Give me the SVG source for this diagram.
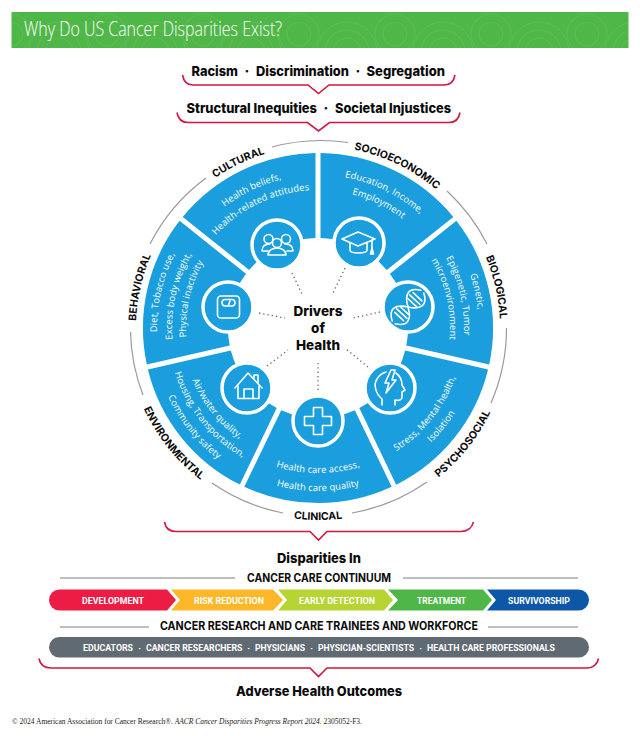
<svg xmlns="http://www.w3.org/2000/svg" width="640" height="736" viewBox="0 0 640 736">
<style>
text{font-family:"Inter","Liberation Sans",sans-serif}
.h{font-weight:800;fill:#0b0b0b;font-size:13.5px}
.sub{font-weight:700;fill:#0b0b0b;font-size:11.5px}
.out{font-weight:700;fill:#0b0b0b;font-size:10.5px;text-anchor:middle}
.seg{font-family:"Open Sans","Liberation Sans",sans-serif;fill:#fff;font-size:9.4px;text-anchor:middle;letter-spacing:.1px}
.bar{font-family:Roboto,"Liberation Sans",sans-serif;font-weight:700;fill:#fff;font-size:8.800px}
.sector{fill:#1b9edd}
.ring{fill:#1b9edd;stroke:#fff;stroke-width:3.5}
.ico{fill:none;stroke:#fff;stroke-width:1.6;stroke-linejoin:round;stroke-linecap:round}
.brace{fill:none;stroke:#d3163f;stroke-width:1.6}
.arc{fill:none;stroke:#9a9a9a;stroke-width:1.2}
.rule{stroke:#a9a9a9;stroke-width:1.4}
.dot{stroke:#666;stroke-width:1.3;stroke-dasharray:1.3 3}
</style>
<defs>
<pattern id="wave" width="96" height="36" patternUnits="userSpaceOnUse" x="11" y="12">
<g fill="none" stroke="#6cc563" stroke-width="1" opacity=".4">
<circle cx="48" cy="40" r="14"/><circle cx="48" cy="40" r="22"/><circle cx="48" cy="40" r="30"/>
<circle cx="0" cy="22" r="12"/><circle cx="96" cy="22" r="12"/><circle cx="0" cy="22" r="20"/><circle cx="96" cy="22" r="20"/>
</g></pattern>
<path id="sector" class="sector" d="M2.500 -175A175 175 0 0 1 135.300 -111.100L68.800 -58.100A90 90 0 0 0 2.500 -90Z"/>
<path id="t132" d="M-132 0A132 132 0 0 1 132 0"/>
<path id="t138" d="M-138 0A138 138 0 0 1 138 0"/>
<path id="t146" d="M-146 0A146 146 0 0 1 146 0"/>
<path id="t153" d="M-153 0A153 153 0 0 1 153 0"/>
<path id="t161" d="M-161 0A161 161 0 0 1 161 0"/>
<path id="t182" d="M-182 0A182 182 0 0 1 182 0"/>
<path id="b136" d="M-136 0A136 136 0 0 0 136 0"/>
<path id="b145" d="M-145 0A145 145 0 0 0 145 0"/>
<path id="b146" d="M-146 0A146 146 0 0 0 146 0"/>
<path id="b150" d="M-150 0A150 150 0 0 0 150 0"/>
<path id="b161" d="M-161 0A161 161 0 0 0 161 0"/>
<path id="b163" d="M-163 0A163 163 0 0 0 163 0"/>
<path id="b165" d="M-165 0A165 165 0 0 0 165 0"/>
<path id="b192" d="M-192 0A192 192 0 0 0 192 0"/>
</defs>

<g id="banner">
<rect x="11.500" y="12" width="617" height="36" fill="#4fb747"/>
<rect x="11.500" y="12" width="617" height="36" fill="url(#wave)"/>
<text x="24" y="36" font-size="20" fill="#fff" textLength="258" lengthAdjust="spacingAndGlyphs" style="font-family:'Open Sans',sans-serif;font-weight:300">Why Do US Cancer Disparities Exist?</text>
</g>

<g id="connectors">
<path class="brace" d="M182.500 75C183.500 81 187 85 193 85H308L318.500 93.500L329 85H444C450 85 454 81 455 75"/>
<path class="brace" d="M177 112.500C178 118.500 181.500 122.500 188 122.500H307.500L318.500 131L329.500 122.500H449C455.500 122.500 459 118.500 460 112.500"/>
<path class="brace" d="M164.500 522C165.500 528 169 531.500 176 531.500H310L318.500 540L327 531.500H461C467 531.500 472 528 473.500 522"/>
<path class="brace" d="M39 658.500C40 664 44 668 51 668H310L318.500 676.500L327 668H587C593 668 597.500 664 598.500 658.500"/>
<g class="arcs">
<path class="arc" d="M272 147A188 188 0 0 1 348 142.500"/>
<path class="arc" d="M447 191A188 188 0 0 1 487 244"/>
<path class="arc" d="M506.500 328A188 188 0 0 1 491 403"/>
<path class="arc" d="M427 482A188 188 0 0 1 352 513"/>
<path class="arc" d="M283 513A188 188 0 0 1 212 483"/>
<path class="arc" d="M143 395A188 188 0 0 1 130.500 332"/>
<path class="arc" d="M150 244A188 188 0 0 1 206 178"/>
</g>
<g class="dots">
<line class="dot" x1="292" y1="273" x2="303" y2="296"/>
<line class="dot" x1="259" y1="313" x2="285" y2="318"/>
<line class="dot" x1="345" y1="268" x2="333" y2="293"/>
<line class="dot" x1="380" y1="312" x2="353" y2="318"/>
<line class="dot" x1="267" y1="366" x2="288" y2="350"/>
<line class="dot" x1="318" y1="363" x2="318" y2="390"/>
<line class="dot" x1="368" y1="367" x2="346" y2="349"/>
</g>
<line class="rule" x1="60" y1="578" x2="235" y2="578"/>
<line class="rule" x1="403" y1="578" x2="578" y2="578"/>
<line class="rule" x1="60" y1="627" x2="149" y2="627"/>
<line class="rule" x1="488" y1="627" x2="578" y2="627"/>
</g>

<g id="causes">
<text class="h" x="191.500" y="76" textLength="46.500" lengthAdjust="spacingAndGlyphs">Racism</text>
<text class="h" x="247" y="76" text-anchor="middle">·</text>
<text class="h" x="256" y="76" textLength="93" lengthAdjust="spacingAndGlyphs">Discrimination</text>
<text class="h" x="358" y="76" text-anchor="middle">·</text>
<text class="h" x="366.500" y="76" textLength="78.500" lengthAdjust="spacingAndGlyphs">Segregation</text>
<text class="h" x="186.500" y="112.500" textLength="130.500" lengthAdjust="spacingAndGlyphs">Structural Inequities</text>
<text class="h" x="326" y="112.500" text-anchor="middle">·</text>
<text class="h" x="335" y="112.500" textLength="116" lengthAdjust="spacingAndGlyphs">Societal Injustices</text>
</g>

<g id="socioeconomic">
<use href="#sector" transform="translate(318 328)"/>
<g transform="translate(318 328) rotate(26)">
<text class="out"><textPath href="#t182" startOffset="50%">SOCIOECONOMIC</textPath></text>
<text class="seg"><textPath href="#t153" startOffset="50%">Education, Income,</textPath></text>
<text class="seg"><textPath href="#t138" startOffset="50%">Employment</textPath></text>
</g>
<circle class="ring" cx="359" cy="243" r="25"/>
<g class="ico" transform="translate(359 243)">
<path d="M-17 -4L-1 -11L16 -4L-1 3Z"/><path d="M-9 0V7C-9 11 8 11 8 7V0"/><path d="M13 -3V5"/><path d="M11.500 11L13 5L14.500 11Z" fill="#fff"/>
</g>
</g>

<g id="biological">
<use href="#sector" transform="translate(318 328) rotate(51.43)"/>
<g transform="translate(318 328) rotate(77.1)">
<text class="out"><textPath href="#t182" startOffset="50%">BIOLOGICAL</textPath></text>
<text class="seg"><textPath href="#t161" startOffset="50%">Genetic,</textPath></text>
<text class="seg"><textPath href="#t146" startOffset="50%">Epigenetic, Tumor</textPath></text>
<text class="seg"><textPath href="#t132" startOffset="50%">microenvironment</textPath></text>
</g>
<circle class="ring" cx="408" cy="307" r="25"/>
<g class="ico" transform="translate(408 307) rotate(-47)">
<path d="M-21 -2C-15 -13 -7 -12 0 0C7 12 15 13 21 2"/>
<path d="M-21 2C-15 13 -7 12 0 0C7 -12 15 -13 21 -2"/>
<path d="M-13 -6V6M-9 -7V7M-5 -5V5M6 -6V6M10 -7V7M14 -6V6"/>
</g>
</g>

<g id="psychosocial">
<use href="#sector" transform="translate(318 328) rotate(102.86)"/>
<g transform="translate(318 328) rotate(-51.4)">
<text class="out"><textPath href="#b192" startOffset="50%">PSYCHOSOCIAL</textPath></text>
<text class="seg"><textPath href="#b146" startOffset="50%">Stress, Mental health,</textPath></text>
<text class="seg"><textPath href="#b161" startOffset="50%">Isolation</textPath></text>
</g>
<circle class="ring" cx="390" cy="388" r="25"/>
<g class="ico" transform="translate(390 388)">
<path d="M-8 17V11C-14 6 -17 -3 -13 -9C-11 -13 -7 -15 -4 -16M6 -15C10 -12 12 -8 12 -3L15 2L12 4V9C12 12 9 13 5 12V17"/>
<path d="M1 -18L-5 -5L-1 -5L-4 5L6 -8L2 -8L5 -18Z"/>
</g>
</g>

<g id="clinical">
<use href="#sector" transform="translate(318 328) rotate(154.29)"/>
<text class="out" transform="translate(318 328)"><textPath href="#b192" startOffset="50%">CLINICAL</textPath></text>
<text class="seg" transform="translate(318 328)"><textPath href="#b145" startOffset="50%">Health care access,</textPath></text>
<text class="seg" transform="translate(318 328)"><textPath href="#b163" startOffset="50%">Health care quality</textPath></text>
<circle class="ring" cx="318" cy="421" r="25"/>
<path class="ico" d="M313.500 407.500H322.500V416.500H331.500V425.500H322.500V434.500H313.500V425.500H304.500V416.500H313.500Z"/>
</g>

<g id="environmental">
<use href="#sector" transform="translate(318 328) rotate(205.71)"/>
<g transform="translate(318 328) rotate(51.4)">
<text class="out"><textPath href="#b192" startOffset="50%">ENVIRONMENTAL</textPath></text>
<text class="seg"><textPath href="#b136" startOffset="50%">Air/water quality,</textPath></text>
<text class="seg"><textPath href="#b150" startOffset="50%">Housing, Transportation,</textPath></text>
<text class="seg"><textPath href="#b165" startOffset="50%">Community safety</textPath></text>
</g>
<circle class="ring" cx="247" cy="388" r="25"/>
<g class="ico" transform="translate(247 388)">
<path d="M-12 0L1 -15L15 0"/><path d="M-9 -2V10.500H12V-2"/><path d="M-3 10.500V1H6V10.500"/><path d="M7 -10V-13H11V-5"/>
</g>
</g>

<g id="behavioral">
<use href="#sector" transform="translate(318 328) rotate(257.14)"/>
<g transform="translate(318 328) rotate(-77.1)">
<text class="out"><textPath href="#t182" startOffset="50%">BEHAVIORAL</textPath></text>
<text class="seg"><textPath href="#t161" startOffset="50%">Diet, Tobacco use,</textPath></text>
<text class="seg"><textPath href="#t146" startOffset="50%">Excess body weight,</textPath></text>
<text class="seg"><textPath href="#t132" startOffset="50%">Physical inactivity</textPath></text>
</g>
<circle class="ring" cx="228" cy="307" r="25"/>
<g class="ico" transform="translate(228 307)">
<rect x="-10.500" y="-11" width="22" height="22" rx="3.500"/>
<rect x="-6" y="-7.500" width="13" height="6.500" rx="3.200"/><path d="M.5 -2L2 -6"/>
</g>
</g>

<g id="cultural">
<use href="#sector" transform="translate(318 328) rotate(308.57)"/>
<g transform="translate(318 328) rotate(-25.7)">
<text class="out"><textPath href="#t182" startOffset="50%">CULTURAL</textPath></text>
<text class="seg"><textPath href="#t153" startOffset="50%">Health beliefs,</textPath></text>
<text class="seg"><textPath href="#t138" startOffset="50%">Health-related attitudes</textPath></text>
</g>
<circle class="ring" cx="277" cy="245" r="25"/>
<g class="ico" transform="translate(277 245)">
<circle cx="-8.500" cy="-6" r="4.500"/><circle cx="9" cy="-6" r="4.500"/><circle cx="0" cy="-2" r="4.500"/>
<path d="M-15 6C-15 1 -12 -1 -7 -1M-15 6H-9M16 6C16 1 13 -1 8 -1M16 6H10"/>
<path d="M-9 10C-9 5 -4 3 0 3C4 3 9 5 9 10Z"/>
</g>
</g>

<g id="drivers">
<text class="h" x="318" y="316" text-anchor="middle">Drivers</text>
<text class="h" x="318" y="333" text-anchor="middle">of</text>
<text class="h" x="318" y="350" text-anchor="middle">Health</text>
</g>

<g id="disparities">
<text class="h" x="277" y="562.500" textLength="84" lengthAdjust="spacingAndGlyphs">Disparities In</text>
<text class="sub" x="247" y="582" textLength="144" lengthAdjust="spacingAndGlyphs">CANCER CARE CONTINUUM</text>
<text class="sub" x="160" y="630" textLength="318" lengthAdjust="spacingAndGlyphs">CANCER RESEARCH AND CARE TRAINEES AND WORKFORCE</text>
</g>

<g id="continuum">
<path fill="#ec1c45" d="M59.500 589.500H167L176 600L167 610.500H59.500A10.500 10.500 0 0 1 59.500 589.500Z"/>
<path fill="#fdb82a" d="M171 589.500H273L283 600L273 610.500H171L180 600Z"/>
<path fill="#b6d433" d="M278 589.500H384L393 600L384 610.500H278L287 600Z"/>
<path fill="#4fb748" d="M388 589.500H483L492 600L483 610.500H388L398 600Z"/>
<path fill="#0c57a7" d="M487 589.500H578.500A10.500 10.500 0 0 1 578.500 610.500H487L496 600Z"/>
<text class="bar" x="82" y="603.500" textLength="62" lengthAdjust="spacingAndGlyphs">DEVELOPMENT</text>
<text class="bar" x="194" y="603.500" textLength="70" lengthAdjust="spacingAndGlyphs">RISK REDUCTION</text>
<text class="bar" x="299" y="603.500" textLength="76" lengthAdjust="spacingAndGlyphs">EARLY DETECTION</text>
<text class="bar" x="417" y="603.500" textLength="49" lengthAdjust="spacingAndGlyphs">TREATMENT</text>
<text class="bar" x="508" y="603.500" textLength="62" lengthAdjust="spacingAndGlyphs">SURVIVORSHIP</text>
</g>

<g id="workforce">
<rect x="49" y="637" width="540" height="20.500" rx="10.200" fill="#5f6a73"/>
<text class="bar" x="83" y="651" textLength="50" lengthAdjust="spacingAndGlyphs">EDUCATORS</text>
<text class="bar" x="139.500" y="651" text-anchor="middle" style="font-size:6px">•</text>
<text class="bar" x="146" y="651" textLength="96.500" lengthAdjust="spacingAndGlyphs">CANCER RESEARCHERS</text>
<text class="bar" x="248.500" y="651" text-anchor="middle" style="font-size:6px">•</text>
<text class="bar" x="255" y="651" textLength="50" lengthAdjust="spacingAndGlyphs">PHYSICIANS</text>
<text class="bar" x="311.500" y="651" text-anchor="middle" style="font-size:6px">•</text>
<text class="bar" x="318" y="651" textLength="96" lengthAdjust="spacingAndGlyphs">PHYSICIAN-SCIENTISTS</text>
<text class="bar" x="420.500" y="651" text-anchor="middle" style="font-size:6px">•</text>
<text class="bar" x="427" y="651" textLength="128" lengthAdjust="spacingAndGlyphs">HEALTH CARE PROFESSIONALS</text>
</g>

<g id="outcomes">
<text class="h" x="236" y="696" textLength="166" lengthAdjust="spacingAndGlyphs">Adverse Health Outcomes</text>
</g>

<text x="12" y="724" font-size="7.500" fill="#222" textLength="350" lengthAdjust="spacingAndGlyphs" style="font-family:'Liberation Serif',serif">© 2024 American Association for Cancer Research®. <tspan font-style="italic">AACR Cancer Disparities Progress Report 2024.</tspan> 2305052-F3.</text>
</svg>
